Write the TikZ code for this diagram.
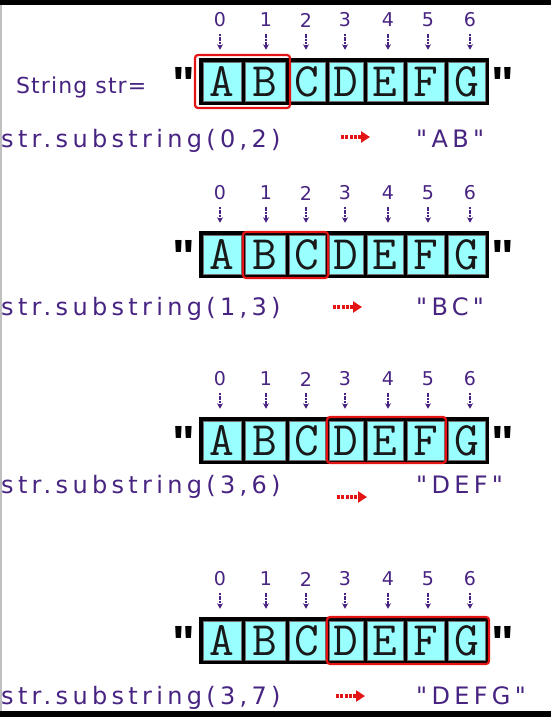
\documentclass[tikz,border=0pt]{standalone}
\usepackage{fontspec}
\usetikzlibrary{arrows.meta}
\newfontfamily\labelfont{DejaVu Sans}
\newfontfamily\strfont[LetterSpace=5]{DejaVu Sans}
\newfontfamily\codefont[LetterSpace=18,Ligatures=TeXOff]{DejaVu Sans}
\newfontfamily\quotefont[Ligatures=TeXOff]{Liberation Sans}
\definecolor{ink}{RGB}{72,36,130}
\definecolor{cellfill}{RGB}{153,255,255}
\definecolor{selred}{RGB}{228,20,20}
\tikzset{
  digit/.style={font=\labelfont\fontsize{19}{19}\selectfont, text=ink, inner sep=0pt},
  idxarrow/.style={draw=ink, line width=1.2pt, dash pattern=on 2pt off 0.7pt, -{Stealth[length=5.5pt,width=6pt]}},
  cellbox/.style={fill=cellfill, draw=black!55, line width=0.5pt, inner sep=0pt, minimum height=39pt, font=\fontsize{48}{48}\ttfamily, text=black!90},
  framebox/.style={fill=black, inner sep=0pt, minimum width=290pt, minimum height=47pt},
  selbox/.style={draw=selred, line width=2.2pt, rounded corners=3pt},
  quotemark/.style={font=\quotefont\bfseries\fontsize{48}{48}\selectfont, inner sep=0pt, anchor=north},
  codetext/.style={font=\codefont\fontsize{24}{24}\selectfont, text=ink, inner sep=0pt, anchor=base west},
  redarrow/.style={draw=selred, line width=3.2pt, dash pattern=on 3pt off 1.3pt, -{Triangle[length=9pt,width=11pt]}},
}
% #1 id, #2 box top, #3 #4 red x range, #5 #6 red y range
\newcommand\strpanel[6]{%
  \node[framebox] (box#1) at (344,#2+23.5) {};
  \foreach \i/\xa/\xb/\ch/\dx in {0/203/241/A/220, 1/245/285/B/266, 2/289/325/C/306, 3/329/363/D/345, 4/367/403/E/388, 5/407/444/F/428, 6/448/485/G/470} {
    \pgfmathsetmacro\cw{\xb-\xa}
    \pgfmathsetmacro\cx{(\xa+\xb)/2}
    \node[cellbox, minimum width=\cw pt] (c#1\i) at (\cx,#2+23.5) {\ch};
    \node[digit] (d#1\i) at (\dx,#2-38) {\i};
    \draw[idxarrow, shorten <=6.5pt, shorten >=12pt] (d#1\i.south) -- (d#1\i.south |- c#1\i.north);
  }
  \node[quotemark] (qa#1) at (183.5,#2+9) {"};
  \node[quotemark] (qb#1) at (502.5,#2+9) {"};
  \draw[selbox] (#3,#5) rectangle (#4,#6);
}
\begin{document}
\begin{tikzpicture}[x=1pt,y=-1pt]
\useasboundingbox (0,0) rectangle (551,717);
\fill[white] (0,0) rectangle (551,717);
\fill[black] (0,0) rectangle (551,5);
\fill[black] (0,711) rectangle (551,717);
\fill[black!25] (0,5) rectangle (1.5,711);

\strpanel{1}{58}{195}{290}{55}{108}
\strpanel{2}{231}{243}{328}{232}{278}
\strpanel{3}{417}{327}{446}{417}{463}
\strpanel{4}{617}{327}{489}{617}{664}

\node[font=\strfont\fontsize{22}{22}\selectfont, text=ink, inner sep=0pt, anchor=base west] (decl) at (16,93) {String str=};

\node[codetext] (s1) at (1,147) {str.substring(0,2)};
\node[codetext] (s2) at (1,315) {str.substring(1,3)};
\node[codetext] (s3) at (1,493) {str.substring(3,6)};
\node[codetext] (s4) at (1,704) {str.substring(3,7)};

\node[codetext] (r1) at (416,147) {"AB"};
\node[codetext] (r2) at (416,315) {"BC"};
\node[codetext] (r3) at (416,493) {"DEF"};
\node[codetext] (r4) at (416,704) {"DEFG"};

\coordinate (ras1) at (341,137); \coordinate (rae1) at (370,137);
\coordinate (ras2) at (333,307); \coordinate (rae2) at (362,307);
\coordinate (ras3) at (337,497); \coordinate (rae3) at (367,497);
\coordinate (ras4) at (336,696); \coordinate (rae4) at (365,696);
\foreach \k in {1,2,3,4} { \draw[redarrow] (ras\k) -- (rae\k); }
\end{tikzpicture}
\end{document}
